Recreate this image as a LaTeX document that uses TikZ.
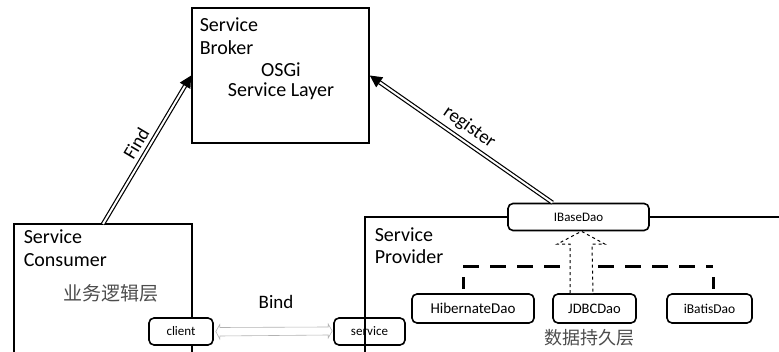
\documentclass[tikz,border=0pt]{standalone}
\usepackage{fontspec}
\setmainfont{Carlito}
\newfontfamily\cjk{Noto Sans CJK SC}
\usetikzlibrary{arrows.meta,calc}

\begin{document}
\begin{tikzpicture}[x=1pt,y=-1pt,line width=1.6pt,
	big/.style={font=\fontsize{20}{23}\selectfont},
	port/.style={draw,fill=white,rounded corners=5pt,minimum width=#1,minimum height=27pt,inner sep=0pt,font=\fontsize{13}{15}\selectfont},
	dao/.style={port=#1,minimum height=29pt,font=\fontsize{13.5}{15}\selectfont},
	link/.style={double,double distance=2pt,line width=1.2pt,-{Triangle[length=12pt,width=12pt]}}]
	\useasboundingbox (0,0) rectangle (779,352);
	\node[draw,minimum width=177pt,minimum height=135pt] (broker) at (280.5,75.5) {};
	\node[big,anchor=north west,align=left,inner sep=0pt] (brokertxt) at (199,17) {Service\\Broker};
	\node[big,anchor=north,align=center,inner sep=0pt,font=\fontsize{20}{20}\selectfont] (osgi) at (281,62) {OSGi\\Service Layer};
	\coordinate (ctl) at (14,224);
	\draw (14,360) -- (ctl) -- (192,224) -- (192,360);
	\node[big,anchor=north west,align=left,inner sep=0pt] (constxt) at (23,229) {Service\\Consumer};
	\node[text=black!70,font=\cjk\fontsize{19}{20}\selectfont] (biz) at (111,293) {业务逻辑层};
	\node[port=64pt] (client) at (181,331.5) {client};
	\node[port=71pt] (service) at (369.5,331.5) {service};
	\node[port=141pt] (ibase) at (578.5,217) {IBaseDao};
	\draw (365,360) -- (365,217) -- (ibase.west);
	\draw (ibase.east) -- (785,217);
	\node[big,anchor=north west,align=left,inner sep=0pt,font=\fontsize{20}{22}\selectfont] (provtxt) at (374,227) {Service\\Provider};
	\node[dao=122pt,font=\fontsize{15}{17}\selectfont] (hib) at (473,308.5) {HibernateDao};
	\node[dao=83pt,font=\fontsize{14.5}{17}\selectfont] (jdbc) at (594.5,308.5) {JDBCDao};
	\node[dao=85pt] (ibatis) at (709.5,308.5) {iBatisDao};
	\node[text=black!70,font=\cjk\fontsize{18}{20}\selectfont] (persist) at (589,338) {数据持久层};
	\coordinate (hibtop) at (463,289);
	\coordinate (ibatop) at (713,289);
	\draw[line width=3pt] (hibtop) -- ++(0,-12);
	\draw[line width=3pt] (ibatop) -- ++(0,-12);
	\draw[line width=3pt,dash pattern=on 16pt off 11pt] (hibtop |- 0,267) -- (ibatop |- 0,267);
	\draw[line width=1pt,dashed,fill=white] ($(jdbc.north)+(-24.5,0)$) -- ++(0,-49) -- ++(-13,0) -- ($(ibase.south)+(3,0)$) -- ($(jdbc.north)+(10.5,-49)$) -- ++(-13,0) -- ($(jdbc.north)+(-1.5,0)$);
	\draw[link] ($(ctl)+(89,0)$) -- (broker.west) node[midway,above=2pt,sloped,big,font=\fontsize{19}{20}\selectfont] {Find};
	\draw[link] ($(ibase.north)+(-26,0)$) -- (broker.east) node[midway,above=2pt,sloped,big,font=\fontsize{19}{20}\selectfont] {register};
	\draw[gray!60,line width=0.6pt] ($(client.east)+(2,0)$) -- ++(4,-7) -- ++(0,3) -- ($(service.west)+(-5,-4.5)$) -- ++(0,-3) -- ++(4,7) -- ++(-4,7) -- ++(0,-3) -- ($(client.east)+(6,4.5)$) -- ++(0,3) -- cycle;
	\node[font=\fontsize{19}{20}\selectfont] (bind) at (276,302) {Bind};
\end{tikzpicture}
\end{document}
